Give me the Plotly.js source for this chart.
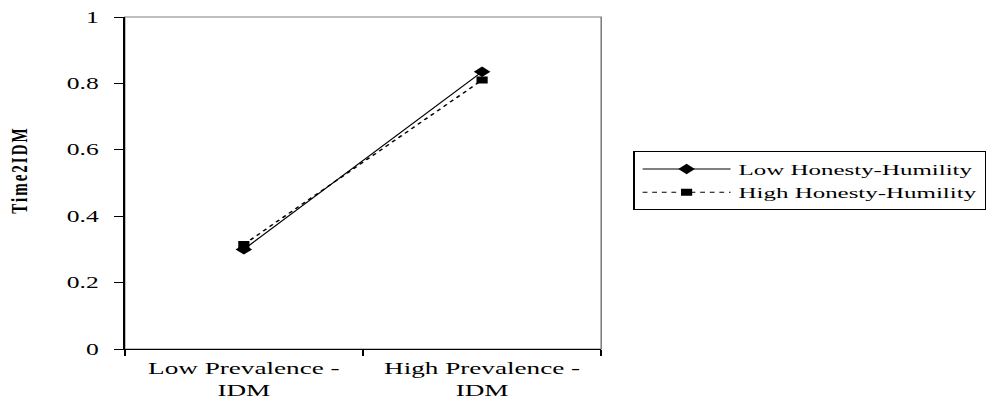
<!DOCTYPE html>
<html>
<head>
<meta charset="utf-8">
<script src="https://cdn.plot.ly/plotly-3.0.1.min.js"></script>
<style>
  html, body { margin: 0; padding: 0; background: #fff; overflow: hidden; }
  /* the chart is laid out narrow and stretched horizontally to its final width */
  #chart { width: 621px; height: 409px; transform: scale(1.599, 1); transform-origin: 0 0; }
  #chart .annotation-text { letter-spacing: 2px; }
</style>
</head>
<body>
<div id="chart"></div>
<script>
// Prevalence conditions on the x axis
const categories = ["Low Prevalence -<br>IDM", "High Prevalence -<br>IDM"];
// Time 2 IDM means by Honesty-Humility group
const lowHonestyHumility = [0.30, 0.835];
const highHonestyHumility = [0.315, 0.81];
const seriesNames = ["Low Honesty-Humility", "High Honesty-Humility"];
const yTitle = "Time2IDM";

const serif = '"Liberation Serif", "Times New Roman", Times, serif';

const traces = [
  {
    x: categories, y: lowHonestyHumility, name: seriesNames[0],
    type: "scatter", mode: "lines+markers",
    line: { color: "#000", width: 1 },
    marker: { symbol: "diamond", size: 8, color: "#000" }
  },
  {
    x: categories, y: highHonestyHumility, name: seriesNames[1],
    type: "scatter", mode: "lines+markers",
    line: { color: "#000", width: 1.2, dash: "3px,3px" },
    marker: { symbol: "square", size: 7, color: "#000" }
  }
];

const layout = {
  width: 621, height: 409,
  margin: { l: 77.5, r: 245, t: 17, b: 60 },
  paper_bgcolor: "#fff", plot_bgcolor: "#fff",
  font: { family: serif, size: 16, color: "#000" },
  showlegend: true,
  legend: {
    xref: "container", yref: "container",
    x: 0.6375, xanchor: "left", y: 0.63, yanchor: "top",
    bordercolor: "#000", borderwidth: 1, bgcolor: "#fff",
    font: { family: serif, size: 15.6, color: "#000" },
    itemwidth: 55, tracegroupgap: 0
  },
  xaxis: {
    type: "category", range: [-0.5, 1.5],
    tickson: "boundaries", ticks: "outside", ticklen: 6, tickcolor: "#000",
    showline: true, linecolor: "#000", linewidth: 1,
    showgrid: false, zeroline: false,
    tickfont: { family: serif, size: 17, color: "#000" },
    ticklabelstandoff: 4, fixedrange: true
  },
  yaxis: {
    range: [0, 1], dtick: 0.2, tick0: 0,
    ticks: "outside", ticklen: 6, tickcolor: "#000",
    showline: true, linecolor: "#000", linewidth: 1,
    showgrid: false, zeroline: false,
    tickfont: { family: serif, size: 16, color: "#000" },
    ticklabelstandoff: 6, fixedrange: true
  },
  shapes: [
    // light frame around the plot area (top and right edges)
    { type: "rect", xref: "paper", yref: "paper", x0: 0, x1: 1, y0: 0, y1: 1,
      line: { color: "#808080", width: 1 }, layer: "below" }
  ],
  annotations: [
    { text: "<b>" + yTitle + "</b>", textangle: -90, showarrow: false,
      xref: "paper", yref: "paper", x: -0.2226, y: 0.539,
      xanchor: "center", yanchor: "middle",
      font: { family: serif, size: 15, color: "#000" } }
  ]
};

Plotly.newPlot("chart", traces, layout, { displayModeBar: false, staticPlot: true });
</script>
</body>
</html>
